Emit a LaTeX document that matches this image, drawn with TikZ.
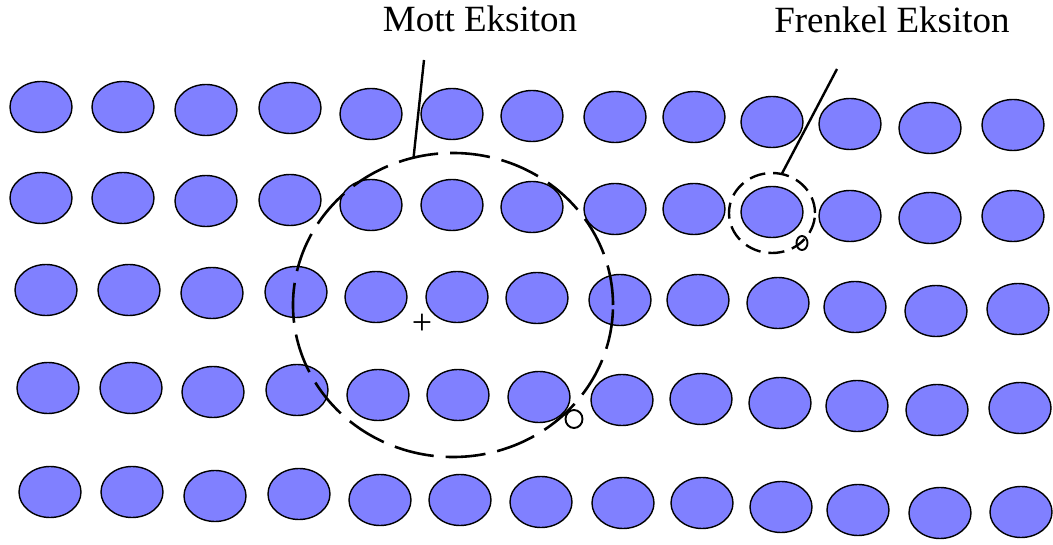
\documentclass[tikz,border=0pt]{standalone}
\usepackage{fontspec}
\setmainfont{Liberation Serif}
\usetikzlibrary{shapes.geometric}
\definecolor{atomfill}{RGB}{128,128,255}
\begin{document}
\begin{tikzpicture}[x=1pt,y=-1pt,
  atom/.style={ellipse, draw=black, line width=1.4pt, fill=atomfill,
    minimum width=62pt, minimum height=51pt, inner sep=0pt, outer sep=0pt},
  lbl/.style={font=\fontsize{37}{40}\selectfont, inner sep=0pt, anchor=base},
  orbit/.style={ellipse, draw=black, inner sep=0pt, outer sep=0pt},
  leader/.style={draw=black, line width=2.4pt},
  electron/.style={ellipse, draw=black, line width=1.9pt, inner sep=0pt, outer sep=0pt},
  hole/.style={font=\fontsize{36}{38}\selectfont, inner sep=0pt}]
\useasboundingbox (0,0) rectangle (1053,545);
% atoms
\foreach \x/\y [count=\c] in {41/107,123/107,206/110,290/108,371/114,452/114,532/116,615/117,694/117,772/122,850/124,930/128,1013/125}
  \node[atom] (a1-\c) at (\x,\y) {};
\foreach \x/\y [count=\c] in {41/198,123/198,206/201,290/200,371/205,452/205,532/207,615/209,694/209,772/212,850/216,930/218,1013/216}
  \node[atom] (a2-\c) at (\x,\y) {};
\foreach \x/\y [count=\c] in {46/290,129/290,212/293,296/292,376/297,457/297,537/298,620/300,698/300,778/303,855/307,936/311,1018/309}
  \node[atom] (a3-\c) at (\x,\y) {};
\foreach \x/\y [count=\c] in {48/388,131/388,213/392,297/390,378/395,458/395,539/397,622/400,701/399,780/403,857/406,937/410,1020/408}
  \node[atom] (a4-\c) at (\x,\y) {};
\foreach \x/\y [count=\c] in {50/492,132/492,215/496,299/494,380/500,460/500,541/502,623/503,702/503,781/507,858/510,940/513,1021/512}
  \node[atom] (a5-\c) at (\x,\y) {};
% Mott exciton
\node[orbit, line width=2.6pt, dash pattern=on 40pt off 12pt,
  minimum width=320pt, minimum height=304pt] (mott) at (453,305) {};
\node[hole] (mhole) at (422,324) {+};
\node[electron, minimum width=17pt, minimum height=18pt] (melec) at (574,419) {};
% Frenkel exciton
\node[orbit, line width=2.4pt, dash pattern=on 16pt off 8pt,
  minimum width=86pt, minimum height=80pt] (frenkel) at (772,213) {};
\node[electron, minimum width=11pt, minimum height=14pt] (felec) at (802,243) {};
% labels
\node[lbl] (mlbl) at (480,32) {Mott Eksiton};
\node[lbl] (flbl) at (892,33) {Frenkel Eksiton};
\coordinate (mend) at (424,60);
\coordinate (fend) at (837,69);
\draw[leader] (mend) -- (mott.105);
\draw[leader] (fend) -- (frenkel.76);
\end{tikzpicture}
\end{document}
